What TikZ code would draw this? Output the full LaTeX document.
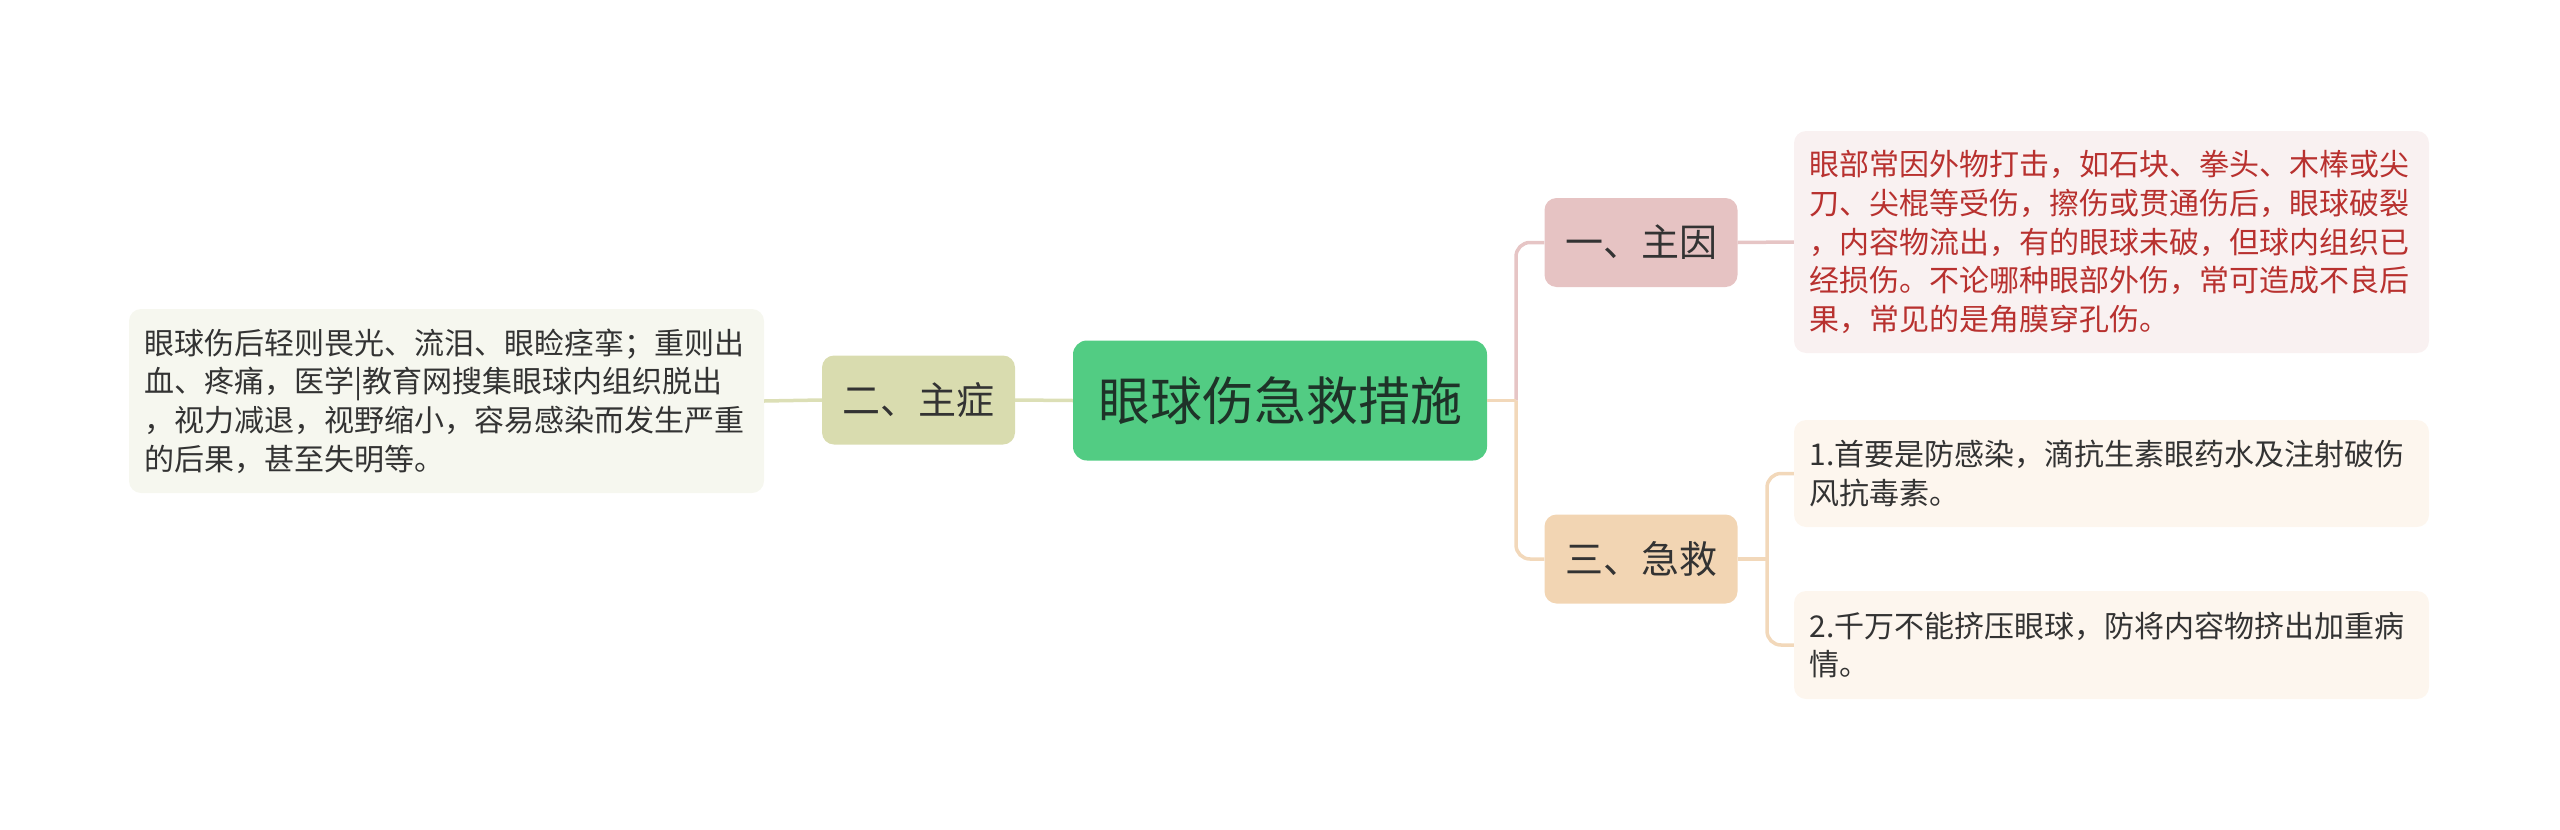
\documentclass[tikz,border=0pt]{standalone}
\usepackage{fontspec}
\setmainfont{Noto Sans CJK SC}
\definecolor{rootfill}{HTML}{52CC83}
\definecolor{roottext}{HTML}{1E3328}
\definecolor{olivefill}{HTML}{D9DCAF}
\definecolor{oliveline}{HTML}{DCDFB6}
\definecolor{olivebox}{HTML}{F6F7EF}
\definecolor{pinkfill}{HTML}{E6C3C3}
\definecolor{pinkline}{HTML}{E6C5C5}
\definecolor{pinkbox}{HTML}{F9F1F1}
\definecolor{redtext}{HTML}{B8312F}
\definecolor{beigefill}{HTML}{F2D5B3}
\definecolor{beigeline}{HTML}{F2D8BA}
\definecolor{beigebox}{HTML}{FDF6EE}
\definecolor{darktext}{HTML}{333333}
\tikzset{
  rootbox/.style={rounded corners=14pt, fill=rootfill, text=roottext, minimum width=414pt, minimum height=120pt, inner sep=0pt, font=\fontsize{52}{60}\selectfont},
  branchbox/.style={rounded corners=12pt, text=darktext, minimum width=193pt, minimum height=89pt, inner sep=0pt, font=\fontsize{38}{46}\selectfont},
  leafbox/.style={rounded corners=12pt, text width=604pt, inner xsep=15.5pt, inner ysep=0pt, align=left, font=\fontsize{30}{38.6}\selectfont},
  conn/.style={line width=3.5pt},
}
\begin{document}
\begin{tikzpicture}[x=1pt,y=-1pt]
\useasboundingbox (0,0) rectangle (2560,830);
% nodes
\node[rootbox] (root) at (1280,400.5) {眼球伤急救措施};
\node[branchbox, fill=olivefill] (zz) at (918.5,400) {二、主症};
\node[branchbox, fill=pinkfill] (zy) at (1641,242.5) {一、主因};
\node[branchbox, fill=beigefill] (jj) at (1641,559) {三、急救};
\node[leafbox, fill=olivebox, text=darktext, minimum height=184pt] (lt) at (446.5,401) {眼球伤后轻则畏光、流泪、眼睑痉挛；重则出\\血、疼痛，医学|教育网搜集眼球内组织脱出\\，视力减退，视野缩小，容易感染而发生严重\\的后果，甚至失明等。};
\node[leafbox, fill=pinkbox, text=redtext, minimum height=222pt] (tr) at (2111.5,242) {眼部常因外物打击，如石块、拳头、木棒或尖\\刀、尖棍等受伤，擦伤或贯通伤后，眼球破裂\\，内容物流出，有的眼球未破，但球内组织已\\经损伤。不论哪种眼部外伤，常可造成不良后\\果，常见的是角膜穿孔伤。};
\node[leafbox, fill=beigebox, text=darktext, minimum height=107pt] (i1) at (2111.5,473.5) {1.首要是防感染，滴抗生素眼药水及注射破伤\\风抗毒素。};
\node[leafbox, fill=beigebox, text=darktext, minimum height=108pt] (i2) at (2111.5,645) {2.千万不能挤压眼球，防将内容物挤出加重病\\情。};
% junctions
\coordinate (jr) at (1516,400.5);
\coordinate (jb) at (1767,559);
% connectors
\draw[conn, oliveline] (zz.east) -- (root.west);
\draw[conn, oliveline] (lt.east) -- (zz.west);
\draw[conn, pinkline] (root.east) -- (jr);
\draw[conn, pinkline, rounded corners=14pt] (jr) |- (zy.west);
\draw[conn, beigeline] (root.east) -- (jr);
\draw[conn, beigeline, rounded corners=14pt] (jr) |- (jj.west);
\draw[conn, pinkline] (zy.east) -- (tr.west);
\draw[conn, beigeline] (jj.east) -- (jb);
\draw[conn, beigeline, rounded corners=14pt] (jb) |- (i1.west);
\draw[conn, beigeline, rounded corners=14pt] (jb) |- (i2.west);
\end{tikzpicture}
\end{document}
